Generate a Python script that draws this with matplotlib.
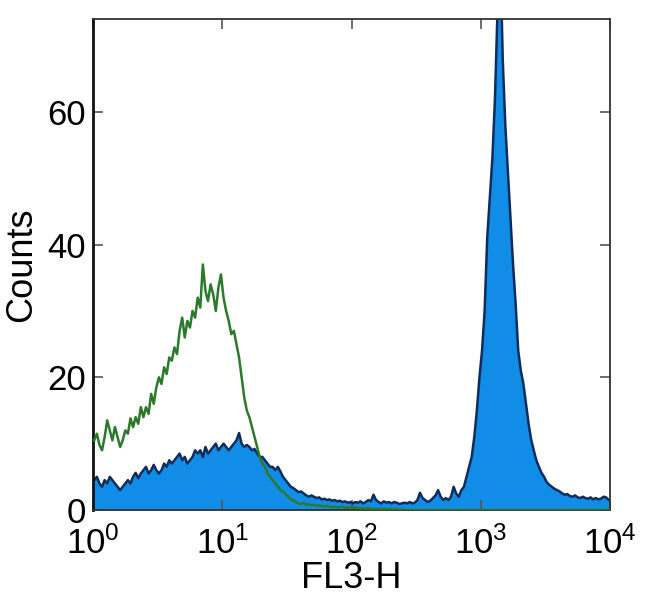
import numpy as np
import matplotlib
matplotlib.use("Agg")
import matplotlib.pyplot as plt

plt.rcParams['font.family'] = ['Liberation Sans', 'DejaVu Sans']
plt.rcParams['mathtext.fontset'] = 'custom'
plt.rcParams['mathtext.rm'] = 'Liberation Sans'
plt.rcParams['mathtext.it'] = 'Liberation Sans'
plt.rcParams['mathtext.bf'] = 'Liberation Sans:bold'

# 200 log channels spanning 10^0 .. 10^4 (0.02 decade each)
n_channels = 200
decade_min, decade_max = 0, 4

# Unstained / isotype control (green, open)
control_counts = [
    10.5, 11.5, 9.8, 9.0, 11.0,
    13.5, 12.0, 10.5, 12.5, 11.0,
    9.5, 10.5, 12.0, 11.5, 13.8,
    12.5, 14.0, 13.0, 15.5, 14.0,
    15.5, 14.5, 17.5, 16.0, 18.5,
    20.0, 19.0, 21.5, 20.5, 23.0,
    22.5, 24.5, 23.5, 27.0, 29.0,
    26.0, 28.5, 27.5, 30.0, 29.0,
    32.0, 30.5, 37.0, 33.0, 31.5,
    34.0, 32.5, 30.0, 33.5, 35.5,
    32.0, 30.0, 28.5, 26.5, 27.0,
    25.0, 23.0, 20.0, 17.0, 15.0,
    14.0, 12.5, 11.0, 9.5, 8.0,
    7.0, 6.5, 5.5, 5.0, 4.5,
    4.0, 3.5, 3.0, 2.8, 2.4,
    2.0, 1.6, 1.4, 1.2, 1.0,
    0.9, 1.1, 0.8, 0.9, 0.7,
    0.8, 0.6, 0.7, 0.6, 0.5,
    0.6, 0.5, 0.4, 0.5, 0.4,
    0.4, 0.5, 0.3, 0.4, 0.3,
    0.3, 0.4, 0.3, 0.2, 0.3,
    0.2, 0.3, 0.2, 0.2, 0.1,
    0.2, 0.1, 0.2, 0.1, 0.1,
    0.1, 0.1, 0.1, 0.0, 0.1,
] + [0.0] * 80

# Stained sample (blue, filled)
stained_counts = [
    4.5, 5.0, 4.0, 3.5, 4.5,
    4.0, 5.0, 4.5, 4.0, 3.5,
    3.0, 3.5, 4.0, 4.5, 4.0,
    5.0, 5.6, 4.8, 5.5, 6.0,
    6.5, 5.5, 6.0, 6.8, 6.0,
    5.5, 6.0, 7.0, 6.5, 7.5,
    7.0, 7.5, 8.0, 8.5, 7.5,
    8.0, 7.0, 7.5, 8.0, 9.0,
    8.5, 9.0, 8.0, 9.5, 8.5,
    9.0, 9.5, 10.0, 9.0, 9.5,
    10.0, 9.5, 9.0, 9.5, 10.0,
    10.5, 11.6, 10.0, 9.5, 9.8,
    9.5, 9.0, 9.2, 8.5, 8.0,
    8.0, 7.5, 7.0, 6.5, 6.5,
    6.0, 6.5, 5.8, 5.0, 4.5,
    4.0, 3.5, 3.3, 3.0, 2.7,
    2.8, 2.5, 2.2, 2.0, 2.2,
    2.0, 1.8, 1.9, 1.6, 1.7,
    1.5, 1.6, 1.4, 1.5, 1.3,
    1.4, 1.2, 1.3, 1.1, 1.2,
    1.0, 1.2, 1.1, 1.3, 1.0,
    1.2, 1.5, 1.3, 2.3, 1.5,
    1.2, 1.0, 1.3, 1.1, 1.2,
    1.0, 1.2, 1.1, 0.9, 1.0,
    1.1, 1.0, 1.2, 1.0, 1.1,
    1.5, 2.6, 1.8, 1.5, 1.2,
    1.4, 1.8, 2.2, 3.0, 2.0,
    1.5, 1.8, 1.5, 2.0, 3.5,
    2.5, 2.0, 3.0, 3.5, 5.0,
    6.5, 8.0, 11.0, 15.0, 20.0,
    24.0, 30.0, 41.0, 47.0, 53.0,
    62.0, 76.0, 85.0, 68.0, 58.0,
    51.0, 44.0, 37.0, 31.0, 24.0,
    21.0, 19.0, 16.0, 13.0, 10.6,
    9.0, 7.5, 6.5, 5.6, 5.0,
    4.2, 3.8, 3.5, 3.2, 3.0,
    2.8, 2.5, 2.3, 2.4, 2.1,
    2.0, 2.2, 1.9, 1.8, 2.0,
    1.8, 1.7, 1.9, 1.6, 1.8,
    1.6, 1.7, 2.0, 1.9, 1.5,
]

x_ticks = [1, 10, 100, 1000, 10000]
x_tick_labels = [r'$\mathregular{10^{0}}$', r'$\mathregular{10^{1}}$', r'$\mathregular{10^{2}}$',
                 r'$\mathregular{10^{3}}$', r'$\mathregular{10^{4}}$']
y_ticks = [0, 20, 40, 60]
y_tick_labels = ['0', '20', '40', '60']
x_label = 'FL3-H'
y_label = 'Counts'

edges = np.logspace(decade_min, decade_max, n_channels + 1)
centers = np.sqrt(edges[:-1] * edges[1:])
# extend to the axis limits so the histogram spans the full plot
xs = np.concatenate([[edges[0]], centers, [edges[-1]]])
stained = np.concatenate([[stained_counts[0]], stained_counts, [stained_counts[-1]]])
control = np.concatenate([[control_counts[0]], control_counts, [control_counts[-1]]])

fig = plt.figure(figsize=(6.5, 6.16), dpi=100)
ax = fig.add_axes([93 / 650, 1 - 510 / 616, (610 - 93) / 650, (510 - 19) / 616])

ax.fill_between(xs, 0, stained, color='#118de8', linewidth=0, zorder=1)
ax.plot(xs, stained, color='#0c2d5c', linewidth=1.8, zorder=2)
ax.plot(xs, control, color='#2b7a2b', linewidth=1.8, zorder=3)

ax.set_xscale('log')
ax.set_xlim(1, 10000)
ax.set_ylim(0, 74)
ax.set_xticks(x_ticks)
ax.set_xticklabels(x_tick_labels)
ax.xaxis.set_minor_locator(matplotlib.ticker.NullLocator())
ax.set_yticks(y_ticks)
ax.set_yticklabels(y_tick_labels)

ax.tick_params(axis='both', which='major', direction='in', length=7, width=1.2,
               color='#555555', labelsize=25, top=True, right=True, pad=5)
ax.tick_params(axis='x', pad=12)
for s in ax.spines.values():
    s.set_color('#333333')
    s.set_linewidth(1.3)
ax.spines['left'].set_color('#111111')
ax.spines['left'].set_linewidth(2)

ax.set_xlabel(x_label, fontsize=26, labelpad=0)
ax.set_ylabel(y_label, fontsize=26, labelpad=6)

fig.savefig('out.png', dpi=100)
